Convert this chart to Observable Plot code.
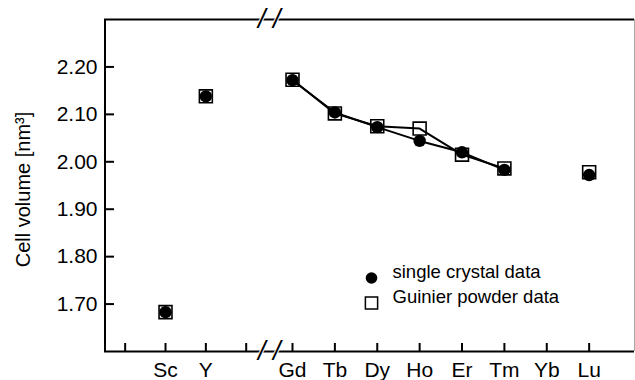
<!DOCTYPE html>
<html>
<head>
<meta charset="utf-8">
<script src="https://cdn.jsdelivr.net/npm/d3@7"></script>
<script src="https://cdn.jsdelivr.net/npm/@observablehq/plot@0.6"></script>
<style>
  html, body { margin: 0; padding: 0; background: #fff; }
  #chart svg { display: block; font-family: "Liberation Sans", Arial, sans-serif; }
</style>
</head>
<body>
<div id="chart"></div>
<script>
// ---- data ----
const tickLabels = ["", "Sc", "Y", "", "Gd", "Tb", "Dy", "Ho", "Er", "Tm", "Yb", "Lu"];
const elements = ["Sc", "Y", "Gd", "Tb", "Dy", "Ho", "Er", "Tm", "Lu"];
const singleCrystal = [1.683, 2.138, 2.172, 2.104, 2.073, 2.044, 2.020, 1.983, 1.972];
const guinierPowder = [1.683, 2.138, 2.173, 2.102, 2.075, 2.070, 2.015, 1.986, 1.978];
const connected = ["Gd", "Tb", "Dy", "Ho", "Er", "Tm"];
const yTicks = [1.70, 1.80, 1.90, 2.00, 2.10, 2.20];
const seriesNames = ["single crystal data", "Guinier powder data"];

const slot = (e) => tickLabels.indexOf(e);
const rows = [];
elements.forEach((e, i) => {
  rows.push({el: e, x: slot(e), v: singleCrystal[i], series: seriesNames[0], line: connected.includes(e)});
  rows.push({el: e, x: slot(e), v: guinierPowder[i], series: seriesNames[1], line: connected.includes(e)});
});
const single = rows.filter(d => d.series === seriesNames[0]);
const powder = rows.filter(d => d.series === seriesNames[1]);
const tickIdx = tickLabels.map((_, i) => i);

const font = "Liberation Sans, Arial, sans-serif";
const breakStyle = {x: 3.5, fontSize: 27, fontStyle: "italic", lineAnchor: "middle", textAnchor: "middle", fill: "#000", stroke: "#fff", strokeWidth: 2, paintOrder: "stroke", fontWeight: "normal"};
const chart = Plot.plot({
  width: 635,
  height: 380,
  marginLeft: 104,
  marginRight: 1,
  marginTop: 19,
  marginBottom: 29,
  style: {fontFamily: font, background: "#fff", overflow: "visible"},
  x: {type: "linear", domain: [-0.5, 3, 4, 12.07], range: [104.5, 245.7, 292, 634], axis: null},
  y: {domain: [1.60, 2.30], axis: null},
  marks: [
    // frame
    Plot.ruleX([12.07], {stroke: "#aaa", strokeWidth: 1}),
    Plot.ruleY([2.30], {stroke: "#000", strokeWidth: 2}),
    Plot.ruleY([1.60], {stroke: "#000", strokeWidth: 2}),
    Plot.ruleX([-0.5], {stroke: "#000", strokeWidth: 2}),
    // ticks (inward)
    Plot.tickX(tickIdx, {x: d => d, stroke: "#000", strokeWidth: 2, insetTop: 324}),
    Plot.tickY(yTicks, {y: d => d, stroke: "#000", strokeWidth: 2, insetRight: 520}),
    // axes labels
    Plot.axisX(tickIdx, {tickSize: 0, tickPadding: 11, tickFormat: i => tickLabels[i], fontSize: 21, fill: "#000", label: null}),
    Plot.axisY(yTicks, {tickSize: 0, tickPadding: 7, tickFormat: d3.format(".2f"), fontSize: 21, fill: "#000", label: null}),
    Plot.text(["Cell volume [nm³]"], {frameAnchor: "left", textAnchor: "middle", lineAnchor: "middle", rotate: -90, dx: -81, dy: 4, fontSize: 20, fill: "#000"}),
    // axis break marks
    Plot.text(["/ /"], {...breakStyle, frameAnchor: "top"}),
    Plot.text(["/ /"], {...breakStyle, frameAnchor: "bottom"}),
    // lines
    Plot.line(powder.filter(d => d.line), {x: "x", y: "v", stroke: "#000", strokeWidth: 2}),
    Plot.line(single.filter(d => d.line), {x: "x", y: "v", stroke: "#000", strokeWidth: 2}),
    // markers
    Plot.dot(powder, {x: "x", y: "v", symbol: "square", r: 7.3, stroke: "#000", strokeWidth: 1.6, fill: "none"}),
    Plot.dot(single, {x: "x", y: "v", symbol: "circle", r: 6.2, fill: "#000", stroke: "none"}),
    // legend
    Plot.dot([seriesNames[0]], {frameAnchor: "bottom-left", dx: 267, dy: -73.5, r: 5.8, fill: "#000"}),
    Plot.dot([seriesNames[1]], {frameAnchor: "bottom-left", dx: 267, dy: -48.5, symbol: "square", r: 6.9, stroke: "#000", strokeWidth: 1.5, fill: "none"}),
    Plot.text([seriesNames[0]], {frameAnchor: "bottom-left", dx: 288, dy: -73.5, text: d => d, textAnchor: "start", fontSize: 18.5, fill: "#000"}),
    Plot.text([seriesNames[1]], {frameAnchor: "bottom-left", dx: 288, dy: -48.5, text: d => d, textAnchor: "start", fontSize: 18.5, fill: "#000"})
  ]
});
document.getElementById("chart").appendChild(chart);
</script>
</body>
</html>
